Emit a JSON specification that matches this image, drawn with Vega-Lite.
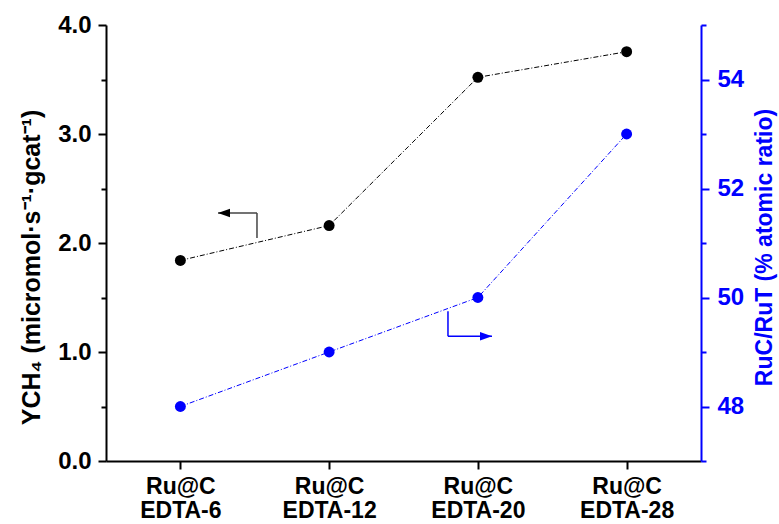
{
  "$schema": "https://vega.github.io/schema/vega-lite/v6.json",
  "width": 595,
  "height": 436,
  "autosize": {"type": "none"},
  "padding": {"left": 106, "top": 25, "right": 78, "bottom": 63},
  "background": "white",
  "config": {
    "view": {"stroke": null},
    "font": "Liberation Sans",
    "axis": {
      "labelFont": "Liberation Sans",
      "titleFont": "Liberation Sans",
      "labelFontWeight": "bold",
      "titleFontWeight": "bold",
      "grid": false
    }
  },
  "datasets": {
    "pts": [
      {"idx": 1, "sample": "EDTA-6", "ych4": 1.84, "ruc": 48},
      {"idx": 2, "sample": "EDTA-12", "ych4": 2.16, "ruc": 49},
      {"idx": 3, "sample": "EDTA-20", "ych4": 3.52, "ruc": 50},
      {"idx": 4, "sample": "EDTA-28", "ych4": 3.755, "ruc": 53}
    ],
    "arrowY": [{"corner_x": 1.515, "tip_x": 1.253, "arm_y": 2.275, "tail_y": 2.046}],
    "arrowR": [{"corner_x": 2.799, "tip_x": 3.095, "arm_y": 49.29, "tail_y": 49.75}]
  },
  "layer": [
    {
      "layer": [
        {
          "data": {"name": "pts"},
          "mark": {"type": "line", "color": "#000000", "strokeWidth": 1, "strokeDash": [5, 2, 1, 2]},
          "encoding": {
            "x": {
              "field": "idx", "type": "quantitative",
              "scale": {"domain": [0.5, 4.5], "nice": false, "zero": false},
              "axis": {
                "values": [1, 2, 3, 4],
                "title": null,
                "labelExpr": "['Ru@C', 'EDTA-' + [6, 12, 20, 28][datum.value - 1]]",
                "labelFontSize": 23,
                "labelLineHeight": 24,
                "labelPadding": 6,
                "labelFlush": false,
                "labelColor": "#000000",
                "tickSize": 8,
                "tickWidth": 2,
                "tickColor": "#000000",
                "domainColor": "#000000",
                "domainWidth": 2
              }
            },
            "y": {
              "field": "ych4", "type": "quantitative",
              "scale": {"domain": [0, 4], "nice": false, "zero": false},
              "axis": {
                "orient": "left",
                "values": [0, 0.5, 1, 1.5, 2, 2.5, 3, 3.5, 4],
                "labelExpr": "datum.value % 1 === 0 ? format(datum.value, '.1f') : ''",
                "tickSize": {"condition": {"test": "datum.value % 1 === 0", "value": 8}, "value": 5},
                "tickWidth": 2,
                "labelPadding": 7,
                "labelFontSize": 24,
                "labelColor": "#000000",
                "labelOverlap": false,
                "tickColor": "#000000",
                "domainColor": "#000000",
                "domainWidth": 2,
                "title": "YCH₄ (micromol·s⁻¹·gcat⁻¹)",
                "titleFontSize": 25,
                "titleColor": "#000000",
                "titleX": -62,
                "titleY": 242,
                "titleAnchor": "middle"
              }
            }
          }
        },
        {
          "data": {"name": "pts"},
          "mark": {"type": "point", "filled": true, "color": "#000000", "size": 120, "opacity": 1},
          "encoding": {
            "x": {"field": "idx", "type": "quantitative"},
            "y": {"field": "ych4", "type": "quantitative"}
          }
        },
        {
          "data": {"name": "arrowY"},
          "mark": {"type": "rule", "color": "#444444", "strokeWidth": 1.5},
          "encoding": {
            "x": {"field": "tip_x", "type": "quantitative"},
            "x2": {"field": "corner_x"},
            "y": {"field": "arm_y", "type": "quantitative"}
          }
        },
        {
          "data": {"name": "arrowY"},
          "mark": {"type": "rule", "color": "#444444", "strokeWidth": 1.5},
          "encoding": {
            "x": {"field": "corner_x", "type": "quantitative"},
            "y": {"field": "arm_y", "type": "quantitative"},
            "y2": {"field": "tail_y"}
          }
        },
        {
          "data": {"name": "arrowY"},
          "mark": {"type": "point", "filled": true, "color": "#000000", "opacity": 1, "size": 144, "shape": "M0,0L2,-0.7L2,0.7Z"},
          "encoding": {
            "x": {"field": "tip_x", "type": "quantitative"},
            "y": {"field": "arm_y", "type": "quantitative"}
          }
        }
      ]
    },
    {
      "layer": [
        {
          "data": {"name": "pts"},
          "mark": {"type": "line", "color": "#0000FF", "strokeWidth": 1, "strokeDash": [5, 2, 1, 2]},
          "encoding": {
            "x": {"field": "idx", "type": "quantitative"},
            "y": {
              "field": "ruc", "type": "quantitative",
              "scale": {"domain": [47, 55], "nice": false, "zero": false},
              "axis": {
                "orient": "right",
                "values": [47, 48, 49, 50, 51, 52, 53, 54, 55],
                "labelExpr": "datum.value % 2 === 0 ? datum.label : ''",
                "tickSize": {"condition": {"test": "datum.value % 2 === 0", "value": 8}, "value": 5},
                "tickWidth": 2,
                "labelPadding": 8,
                "labelFontSize": 24,
                "labelColor": "#0000FF",
                "labelOverlap": false,
                "tickColor": "#0000FF",
                "domainColor": "#0000FF",
                "domainWidth": 2,
                "title": "RuC/RuT (% atomic ratio)",
                "titleFontSize": 23,
                "titleColor": "#0000FF",
                "titleAngle": 270,
                "titleBaseline": "top",
                "titleX": 52,
                "titleY": 222,
                "titleAnchor": "middle"
              }
            }
          }
        },
        {
          "data": {"name": "pts"},
          "mark": {"type": "point", "filled": true, "color": "#0000FF", "size": 120, "opacity": 1},
          "encoding": {
            "x": {"field": "idx", "type": "quantitative"},
            "y": {"field": "ruc", "type": "quantitative"}
          }
        },
        {
          "data": {"name": "arrowR"},
          "mark": {"type": "rule", "color": "#0000FF", "strokeWidth": 1.5},
          "encoding": {
            "x": {"field": "corner_x", "type": "quantitative"},
            "x2": {"field": "tip_x"},
            "y": {"field": "arm_y", "type": "quantitative"}
          }
        },
        {
          "data": {"name": "arrowR"},
          "mark": {"type": "rule", "color": "#0000FF", "strokeWidth": 1.5},
          "encoding": {
            "x": {"field": "corner_x", "type": "quantitative"},
            "y": {"field": "arm_y", "type": "quantitative"},
            "y2": {"field": "tail_y"}
          }
        },
        {
          "data": {"name": "arrowR"},
          "mark": {"type": "point", "filled": true, "color": "#0000FF", "opacity": 1, "size": 144, "shape": "M0,0L-2,-0.7L-2,0.7Z"},
          "encoding": {
            "x": {"field": "tip_x", "type": "quantitative"},
            "y": {"field": "arm_y", "type": "quantitative"}
          }
        }
      ]
    }
  ],
  "resolve": {"scale": {"y": "independent"}}
}
